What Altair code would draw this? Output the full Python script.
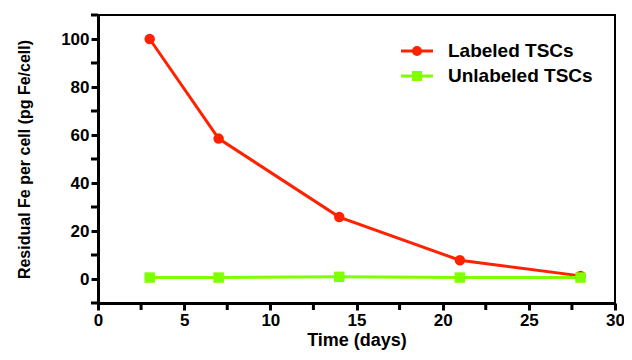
import altair as alt
import pandas as pd

days = [3, 7, 14, 21, 28]
labeled = [100, 58.5, 25.8, 7.8, 1.3]
unlabeled = [0.6, 0.6, 0.9, 0.6, 0.6]
series_names = ["Labeled TSCs", "Unlabeled TSCs"]
colors = ["#FF2200", "#80FF00"]
shapes = ["circle", "square"]

x_major = [0, 5, 10, 15, 20, 25, 30]
x_minor = [2.5, 7.5, 12.5, 17.5, 22.5, 27.5]
y_major = [0, 20, 40, 60, 80, 100]
y_minor = [-10, 10, 30, 50, 70, 90, 110]

rows = []
for d, a, b in zip(days, labeled, unlabeled):
    rows.append({"day": d, "fe": a, "series": series_names[0]})
    rows.append({"day": d, "fe": b, "series": series_names[1]})
df = pd.DataFrame(rows)

FONT = "Liberation Sans"
W, H = 517, 288

xs = alt.Scale(domain=[0, 30], nice=False)
ys = alt.Scale(domain=[-10, 110], nice=False)
cs = alt.Scale(domain=series_names, range=colors)
ss = alt.Scale(domain=series_names, range=shapes)

x_enc = alt.X("day:Q", scale=xs, axis=alt.Axis(
    title="Time (days)", values=x_major, format="d",
    labelOverlap=False, labelFlush=False, labelBound=False,
    grid=False, domainColor="black", domainWidth=3, tickColor="black",
    tickWidth=3, tickSize=7, labelFont=FONT, labelFontSize=17, labelFontWeight="bold",
    labelColor="black", labelPadding=2, titleFont=FONT, titleFontSize=18,
    titleFontWeight="bold", titleColor="black", titlePadding=3))
y_enc = alt.Y("fe:Q", scale=ys, axis=alt.Axis(
    title="Residual Fe per cell (pg Fe/cell)", values=y_major, format="d",
    labelOverlap=False, labelFlush=False, labelBound=False,
    grid=False, domainColor="black", domainWidth=3, tickColor="black",
    tickWidth=3, tickSize=7, labelFont=FONT, labelFontSize=17, labelFontWeight="bold",
    labelColor="black", labelPadding=2, titleFont=FONT, titleFontSize=16,
    titleFontWeight="bold", titleColor="black", titlePadding=28))

base = alt.Chart(df)
lines = base.mark_line(strokeWidth=3).encode(
    x=x_enc, y=y_enc,
    color=alt.Color("series:N", scale=cs, legend=None),
    detail="series:N")
points = base.mark_point(filled=True, size=110, opacity=1).encode(
    x="day:Q", y="fe:Q",
    color=alt.Color("series:N", scale=cs, legend=None),
    shape=alt.Shape("series:N", scale=ss, legend=None))

# minor ticks
xm = alt.Chart(pd.DataFrame({"t": x_minor})).mark_rule(
    strokeWidth=3, color="black").encode(
    x=alt.X("t:Q", scale=xs), y=alt.value(H), y2=alt.value(H + 7))
ym = alt.Chart(pd.DataFrame({"t": y_minor})).mark_rule(
    strokeWidth=3, color="black").encode(
    y=alt.Y("t:Q", scale=ys), x=alt.value(-7), x2=alt.value(0))

leg = pd.DataFrame({"series": series_names, "idx": [0, 1]})
legbase = alt.Chart(leg).transform_calculate(
    ly="36 + datum.idx * 25")
leg_y = alt.Y("ly:Q", scale=None, axis=None)
leg_rule = legbase.mark_rule(strokeWidth=3).encode(
    x=alt.value(303), x2=alt.value(335), y=leg_y,
    color=alt.Color("series:N", scale=cs, legend=None))
leg_pt = legbase.mark_point(filled=True, size=100, opacity=1).encode(
    x=alt.value(319), y=leg_y,
    color=alt.Color("series:N", scale=cs, legend=None),
    shape=alt.Shape("series:N", scale=ss, legend=None))
leg_txt = legbase.mark_text(align="left", baseline="middle", font=FONT,
                            fontSize=19, fontWeight="bold", color="black").encode(
    x=alt.value(350), y=leg_y, text="series:N")

chart = alt.layer(lines, points, xm, ym, leg_rule, leg_pt, leg_txt).resolve_scale(
    color="shared", shape="shared").properties(
    width=W, height=H,
    autosize=alt.AutoSizeParams(type="none"),
    padding={"left": 90, "top": 7, "right": 9, "bottom": 49},
).configure_view(stroke="black", strokeWidth=2)

chart.save("out.html", embed_options={"renderer": "svg", "actions": False})
